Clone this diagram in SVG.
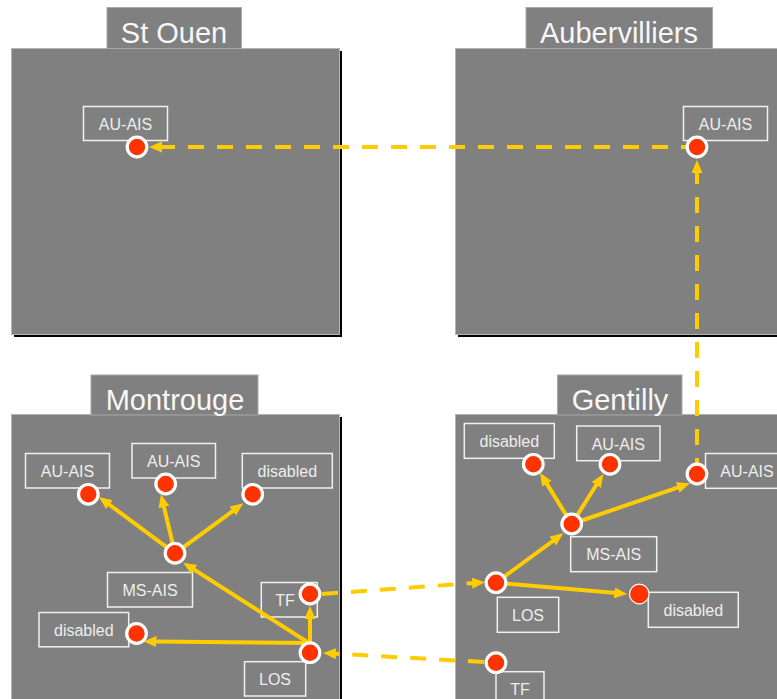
<svg xmlns="http://www.w3.org/2000/svg" width="777" height="699" viewBox="0 0 777 699">
<defs>
<style>
.shadow{fill:#000}
.panel{fill:#808080;stroke:#b4b4b4;stroke-width:1}
.tab{fill:#808080;stroke:#a8a8a8;stroke-width:1}
.title{font-family:"Liberation Sans",Arial,sans-serif;font-size:29px;fill:#f7f7f7;text-anchor:middle}
.lbl{fill:none;stroke:#f0f0f0;stroke-width:1.5}
.lt{font-family:"Liberation Sans",Arial,sans-serif;font-size:16px;fill:#eeeeee;text-anchor:middle}
.node{fill:#ff3300;stroke:#ffffff;stroke-width:3.2}
.thin{stroke-width:1.2}
.c{fill:none;stroke:#ffcc00;stroke-width:4;marker-end:url(#ah)}
.d{stroke-dasharray:16 13}
</style>
<marker id="ah" markerUnits="userSpaceOnUse" markerWidth="14" markerHeight="12" refX="2" refY="5.5" orient="auto">
<path d="M0,0 L13,5.5 L0,11 z" fill="#ffcc00"/>
</marker>
</defs>
<rect width="777" height="699" fill="#ffffff"/>

<g id="panel-st-ouen">
<rect class="shadow" x="14" y="51" width="328" height="286"/>
<rect class="panel" x="11.5" y="48.5" width="328" height="286"/>
<rect class="tab" x="107" y="7.5" width="134.5" height="41"/>
<text class="title" x="174" y="43">St Ouen</text>
</g>
<g id="panel-aubervilliers">
<rect class="shadow" x="458" y="51" width="330" height="286"/>
<rect class="panel" x="455.5" y="48.5" width="330" height="286"/>
<rect class="tab" x="526" y="7.5" width="186.5" height="41"/>
<text class="title" x="619" y="43">Aubervilliers</text>
</g>
<g id="panel-montrouge">
<rect class="shadow" x="14" y="417" width="328" height="300"/>
<rect class="panel" x="11.5" y="414.5" width="328" height="300"/>
<rect class="tab" x="91" y="375" width="167" height="40"/>
<text class="title" x="175" y="409.5">Montrouge</text>
</g>
<g id="panel-gentilly">
<rect class="shadow" x="458" y="417" width="330" height="300"/>
<rect class="panel" x="455.5" y="414.5" width="330" height="300"/>
<rect class="tab" x="557.5" y="375" width="124.5" height="40"/>
<text class="title" x="620" y="409.5">Gentilly</text>
</g>

<g id="labels">
<g id="lbl-so-auais"><rect class="lbl" x="83.5" y="106.5" width="84" height="34"/><text class="lt" x="125.5" y="130">AU-AIS</text></g>
<g id="lbl-au-auais"><rect class="lbl" x="683.5" y="106.5" width="84" height="34"/><text class="lt" x="725.5" y="130">AU-AIS</text></g>

<g id="lbl-m-auais1"><rect class="lbl" x="25.5" y="453.5" width="84" height="34.5"/><text class="lt" x="67.5" y="477">AU-AIS</text></g>
<g id="lbl-m-auais2"><rect class="lbl" x="132" y="443.5" width="83.5" height="34.5"/><text class="lt" x="173.7" y="467">AU-AIS</text></g>
<g id="lbl-m-dis1"><rect class="lbl" x="242.3" y="453.5" width="90" height="34.5"/><text class="lt" x="287.3" y="477">disabled</text></g>
<g id="lbl-m-msais"><rect class="lbl" x="107.5" y="572.5" width="85" height="34.5"/><text class="lt" x="150" y="596">MS-AIS</text></g>
<g id="lbl-m-tf"><rect class="lbl" x="261.3" y="582.5" width="56" height="34.5"/><text class="lt" x="285" y="606">TF</text></g>
<g id="lbl-m-dis2"><rect class="lbl" x="39" y="612.5" width="89.7" height="34.3"/><text class="lt" x="83.8" y="636">disabled</text></g>
<g id="lbl-m-los"><rect class="lbl" x="244.5" y="661.7" width="61.2" height="34.3"/><text class="lt" x="275" y="685">LOS</text></g>

<g id="lbl-g-dis1"><rect class="lbl" x="464.3" y="423.5" width="90" height="34.8"/><text class="lt" x="509.3" y="447">disabled</text></g>
<g id="lbl-g-auais1"><rect class="lbl" x="576.7" y="426" width="83.3" height="34.7"/><text class="lt" x="618.3" y="449.5">AU-AIS</text></g>
<g id="lbl-g-auais2"><rect class="lbl" x="705.5" y="453.5" width="84" height="34.8"/><text class="lt" x="747" y="477">AU-AIS</text></g>
<g id="lbl-g-msais"><rect class="lbl" x="570.7" y="536.7" width="86" height="35"/><text class="lt" x="613.7" y="560">MS-AIS</text></g>
<g id="lbl-g-los"><rect class="lbl" x="497.3" y="597.3" width="61.4" height="35"/><text class="lt" x="528" y="621">LOS</text></g>
<g id="lbl-g-dis2"><rect class="lbl" x="648.3" y="592.3" width="90" height="35"/><text class="lt" x="693.3" y="616">disabled</text></g>
<g id="lbl-g-tf"><rect class="lbl" x="496" y="671.7" width="48" height="35"/><text class="lt" x="520" y="695">TF</text></g>
</g>

<g id="connectors">
<line class="c d" x1="697" y1="147" x2="160" y2="147"/>
<line class="c d" x1="697" y1="474" x2="697" y2="171"/>
<line class="c d" x1="322" y1="594" x2="474" y2="583"/>
<line class="c d" x1="484" y1="662" x2="334" y2="653.6"/>

<line class="c" x1="175" y1="553.3" x2="107.8" y2="503.5"/>
<line class="c" x1="175" y1="553.3" x2="163.5" y2="505"/>
<line class="c" x1="175" y1="553.3" x2="234.4" y2="509.8"/>
<line class="c" x1="312" y1="645" x2="192.6" y2="568.6"/>
<line class="c" x1="310" y1="646" x2="310" y2="617"/>
<line class="c" x1="312" y1="643" x2="154.5" y2="641.6"/>

<line class="c" x1="496" y1="582.7" x2="554.4" y2="539.8"/>
<line class="c" x1="571.7" y1="524" x2="545.8" y2="482.1"/>
<line class="c" x1="571.7" y1="524" x2="597.4" y2="483.3"/>
<line class="c" x1="571.7" y1="524" x2="679.6" y2="486.9"/>
<line class="c" x1="496" y1="582.7" x2="616.3" y2="593.1"/>
</g>

<g id="nodes">
<circle id="n-so-auais" class="node" cx="137" cy="147" r="9.8"/>
<circle id="n-au-auais" class="node" cx="697" cy="147" r="9.8"/>
<circle id="n-m-auais1" class="node" cx="88.3" cy="494.3" r="9.8"/>
<circle id="n-m-auais2" class="node" cx="165.7" cy="484" r="9.8"/>
<circle id="n-m-dis1" class="node" cx="252.7" cy="494.3" r="9.8"/>
<circle id="n-m-msais" class="node" cx="175" cy="553.3" r="9.8"/>
<circle id="n-m-tf" class="node" cx="310" cy="594" r="9.8"/>
<circle id="n-m-dis2" class="node" cx="136.5" cy="633.5" r="9.8"/>
<circle id="n-m-los" class="node" cx="310" cy="652.7" r="9.8"/>
<circle id="n-g-dis1" class="node" cx="533.3" cy="464.3" r="9.8"/>
<circle id="n-g-auais1" class="node" cx="610" cy="464.3" r="9.8"/>
<circle id="n-g-auais2" class="node" cx="697" cy="474" r="9.8"/>
<circle id="n-g-msais" class="node" cx="571.7" cy="524" r="9.8"/>
<circle id="n-g-los" class="node" cx="496" cy="582.7" r="9.8"/>
<circle id="n-g-dis2" class="node thin" cx="639.3" cy="594" r="9.8"/>
<circle id="n-g-tf" class="node" cx="496" cy="662.7" r="9.8"/>
</g>
</svg>
